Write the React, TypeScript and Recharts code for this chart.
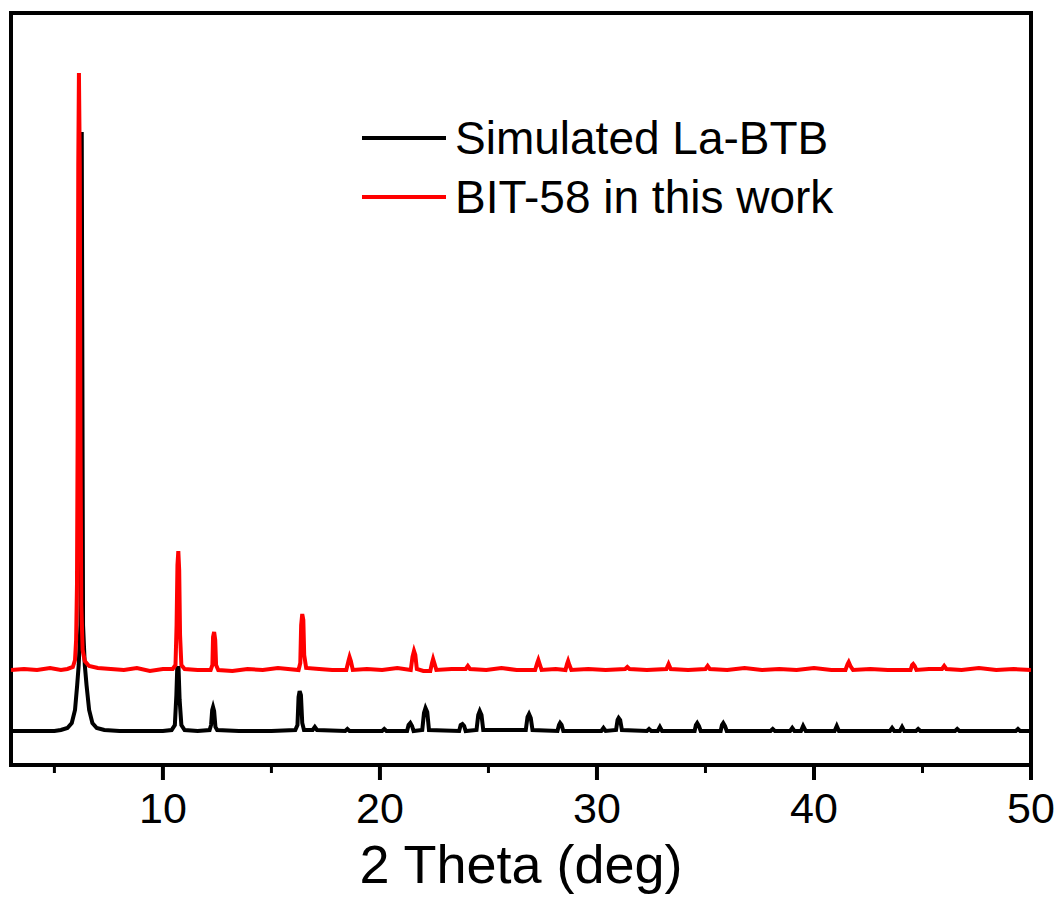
import React from 'react';
import { LineChart, Line, XAxis, YAxis, ReferenceArea } from 'recharts';

// 2θ (deg) vs intensity (a.u., offset stack)
const simulatedLaBTB: [number, number][] = [
  [3, 34], [4, 34], [5, 34], [5.3, 35], [5.6, 37], [5.8, 42], [5.95, 55], [6.05, 80], [6.12, 100],
  [6.2, 140], [6.26, 633], [6.32, 140], [6.4, 100], [6.48, 80], [6.6, 55], [6.75, 42], [6.95, 37],
  [7.3, 35], [8, 34], [9, 34], [10, 34], [10.4, 35], [10.55, 40], [10.62, 70], [10.66, 97],
  [10.72, 97], [10.77, 65], [10.85, 40], [11.0, 35], [11.6, 34], [12.15, 35], [12.22, 40],
  [12.27, 55], [12.31, 58], [12.36, 54], [12.42, 38], [12.5, 35], [13.5, 34], [15, 34], [16.1, 35],
  [16.2, 40], [16.25, 68], [16.3, 74], [16.36, 70], [16.42, 42], [16.5, 35], [16.9, 35], [17.0, 38],
  [17.1, 35], [18.4, 34], [18.5, 36], [18.6, 34], [20.1, 34], [20.2, 36], [20.3, 34], [21.25, 34],
  [21.32, 40], [21.4, 42], [21.48, 39], [21.55, 34], [21.95, 35], [22.03, 52], [22.1, 57],
  [22.18, 53], [22.26, 35], [23.65, 34], [23.72, 40], [23.8, 41], [23.88, 39], [23.95, 34],
  [24.45, 35], [24.53, 50], [24.6, 54], [24.68, 50], [24.76, 35], [26.72, 35], [26.8, 48],
  [26.87, 51], [26.95, 47], [27.03, 35], [28.18, 34], [28.25, 40], [28.3, 42], [28.37, 40],
  [28.45, 34], [30.2, 34], [30.3, 37], [30.4, 34], [30.88, 35], [30.95, 45], [31.0, 47],
  [31.07, 45], [31.15, 35], [32.3, 34], [32.4, 36], [32.5, 34], [32.8, 34], [32.9, 38], [33.0, 34],
  [34.5, 34], [34.56, 40], [34.62, 42], [34.7, 39], [34.78, 34], [35.7, 34], [35.76, 40],
  [35.82, 42], [35.9, 39], [35.98, 34], [38.0, 34], [38.1, 36], [38.2, 34], [38.9, 34], [39.0, 37],
  [39.1, 34], [39.4, 34], [39.5, 39], [39.62, 34], [40.95, 34], [41.05, 39], [41.15, 34],
  [43.5, 34], [43.6, 37], [43.7, 34], [43.96, 34], [44.06, 38], [44.16, 34], [44.7, 34],
  [44.8, 36], [44.9, 34], [46.5, 34], [46.6, 36], [46.7, 34], [49.3, 34], [49.4, 36], [49.5, 34],
  [50, 34],
];

const bit58ThisWork: [number, number][] = [
  [3, 95], [3.6, 96], [4.2, 95], [4.8, 97], [5.3, 95], [5.6, 96], [5.85, 98], [5.95, 105],
  [6.0, 125], [6.04, 180], [6.07, 330], [6.1, 600], [6.13, 692], [6.17, 600], [6.2, 330],
  [6.24, 160], [6.3, 115], [6.4, 104], [6.6, 99], [7.0, 97], [7.6, 96], [8.2, 95], [8.8, 97],
  [9.4, 94], [10.0, 96], [10.45, 96], [10.58, 100], [10.63, 140], [10.67, 200], [10.71, 214],
  [10.75, 195], [10.79, 130], [10.85, 100], [11.0, 96], [11.6, 95], [12.2, 95], [12.28, 100],
  [12.31, 128], [12.36, 133], [12.41, 125], [12.45, 100], [12.55, 95], [13.2, 94], [13.9, 96],
  [14.6, 95], [15.3, 97], [16.25, 95], [16.33, 102], [16.37, 140], [16.42, 151], [16.47, 145],
  [16.51, 110], [16.6, 97], [17.2, 96], [17.8, 95], [18.45, 95], [18.55, 104], [18.6, 108],
  [18.66, 104], [18.75, 95], [19.4, 96], [20.1, 95], [20.8, 97], [21.42, 95], [21.5, 108],
  [21.57, 114], [21.63, 110], [21.7, 96], [22.0, 94], [22.32, 94], [22.4, 102], [22.45, 106],
  [22.52, 101], [22.6, 95], [23.3, 96], [23.95, 96], [24.05, 99], [24.15, 96], [24.9, 95],
  [25.6, 97], [26.3, 95], [27.15, 95], [27.25, 102], [27.3, 105], [27.36, 101], [27.45, 95],
  [28.1, 96], [28.55, 95], [28.62, 101], [28.67, 104], [28.73, 100], [28.82, 95], [29.6, 96],
  [30.4, 95], [31.3, 96], [31.4, 98], [31.5, 96], [32.3, 95], [33.2, 96], [33.3, 101], [33.4, 96],
  [34.2, 95], [35.0, 96], [35.1, 99], [35.2, 96], [36.0, 95], [36.8, 97], [37.6, 95], [38.4, 96],
  [39.2, 95], [40.0, 97], [40.8, 95], [41.45, 95], [41.55, 101], [41.6, 103], [41.68, 99],
  [41.8, 95], [42.6, 96], [43.4, 95], [44.45, 95], [44.52, 100], [44.57, 101], [44.64, 99],
  [44.72, 95], [45.3, 96], [45.9, 96], [46.0, 99], [46.1, 96], [46.8, 95], [47.6, 97], [48.4, 95],
  [49.2, 96], [50, 95],
];

const xTicks = [5, 10, 15, 20, 25, 30, 35, 40, 45, 50];
const legendItems = [
  { label: 'Simulated La-BTB', color: '#000000' },
  { label: 'BIT-58 in this work', color: '#ff0000' },
];

const FONT = 'Arial, "Liberation Sans", sans-serif';
const W = 1055;
const H = 892;

const toRows = (pts: [number, number][]) => pts.map(([x, y]) => ({ x, y }));

const XTick = (props: any) => {
  const { x, y, payload } = props;
  const major = payload.value % 10 === 0;
  return (
    <g>
      <line x1={x} x2={x} y1={y} y2={y + (major ? 15 : 8)} stroke="#000" strokeWidth={major ? 4 : 3} />
      {major && (
        <text x={x} y={y + 58} textAnchor="middle" fontSize={43} fontFamily={FONT} fill="#000">
          {payload.value}
        </text>
      )}
    </g>
  );
};

export default function App() {
  return (
    <div style={{ position: 'relative', width: W, height: H }}>
      <LineChart width={W} height={H} margin={{ top: 5, right: 32, left: 3, bottom: 0 }}>
        <XAxis
          type="number"
          dataKey="x"
          domain={[3, 50]}
          ticks={xTicks}
          allowDataOverflow
          axisLine={false}
          tickLine={false}
          tickSize={0}
          tickMargin={0}
          interval={0}
          height={135}
          tick={<XTick />}
        />
        <YAxis hide type="number" domain={[0, 752]} allowDataOverflow />
        <Line data={toRows(simulatedLaBTB)} dataKey="y" type="linear" stroke="#000" strokeWidth={4} dot={false} isAnimationActive={false} />
        <Line data={toRows(bit58ThisWork)} dataKey="y" type="linear" stroke="#ff0000" strokeWidth={4} dot={false} isAnimationActive={false} />
        <ReferenceArea x1={3} x2={50} y1={0} y2={752} fill="none" stroke="#000" strokeWidth={4} ifOverflow="visible" />
      </LineChart>
      <svg width={W} height={H} style={{ position: 'absolute', left: 0, top: 0, pointerEvents: 'none' }}>
        {legendItems.map((item, i) => (
          <g key={item.label}>
            <line x1={354} x2={438} y1={130 + i * 59} y2={130 + i * 59} stroke={item.color} strokeWidth={4} />
            <text x={447} y={146 + i * 59} fontSize={46} fontFamily={FONT} fill="#000">
              {item.label}
            </text>
          </g>
        ))}
        <text x={513} y={875} textAnchor="middle" fontSize={54} fontFamily={FONT} fill="#000">
          2 Theta (deg)
        </text>
      </svg>
    </div>
  );
}
